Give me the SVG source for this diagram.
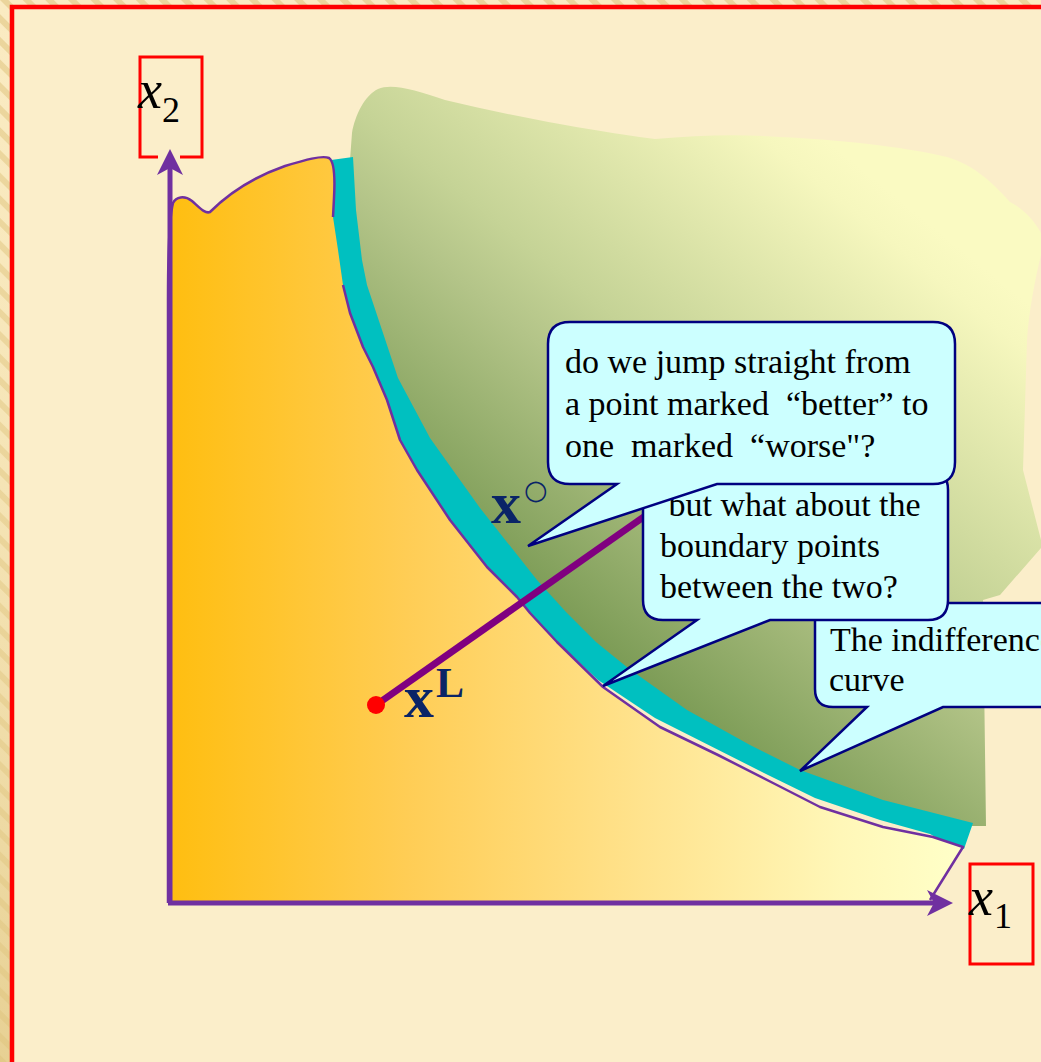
<svg xmlns="http://www.w3.org/2000/svg" width="1041" height="1062" viewBox="0 0 1041 1062">
<defs>
<pattern id="stripes" patternUnits="userSpaceOnUse" width="16" height="16" patternTransform="rotate(-45)">
<rect width="16" height="16" fill="#FAEBC2"/>
<rect width="6" height="16" fill="#EBD59C"/>
</pattern>
<linearGradient id="edgeShade" x1="0" y1="0" x2="0" y2="1">
<stop offset="0" stop-color="#F3E2B0" stop-opacity="0"/>
<stop offset="1" stop-color="#DFC57F" stop-opacity="0.7"/>
</linearGradient>
<linearGradient id="orangeGrad" gradientUnits="userSpaceOnUse" x1="170" y1="0" x2="960" y2="0">
<stop offset="0" stop-color="#FFBE10"/>
<stop offset="0.3" stop-color="#FFCD55"/>
<stop offset="0.6" stop-color="#FFE38E"/>
<stop offset="0.85" stop-color="#FFF7B8"/>
<stop offset="1" stop-color="#FFFFC8"/>
</linearGradient>
<linearGradient id="greenGrad" gradientUnits="userSpaceOnUse" x1="560" y1="620" x2="900" y2="200">
<stop offset="0" stop-color="#7B9B55"/>
<stop offset="0.37" stop-color="#B3C488"/>
<stop offset="0.5" stop-color="#C5D396"/>
<stop offset="0.93" stop-color="#F6F7BE"/>
<stop offset="1" stop-color="#FAFAC2"/>
</linearGradient>
<style>
.axis{stroke:#7030A0;stroke-width:5;fill:none}
.arrowhead{fill:#7030A0}
.outline{stroke:#7030A0;stroke-width:2.5;fill:none;stroke-linejoin:round}
.callout{fill:#CCFFFF;stroke:#000080;stroke-width:2.5;stroke-linejoin:miter}
.ctext{font-family:"Liberation Serif","Times New Roman",serif;font-size:34px;fill:#000000;white-space:pre}
.axlabel{font-family:"Liberation Serif","Times New Roman",serif;fill:#000000}
.labelbox{fill:none;stroke:#FF0000;stroke-width:3}
.ptlabel{font-family:"Liberation Serif","Times New Roman",serif;font-weight:bold;fill:#0A2467}
</style>
</defs>

<g id="background">
<rect x="0" y="0" width="1041" height="1062" fill="url(#stripes)"/>
<rect x="0" y="0" width="1041" height="1062" fill="url(#edgeShade)"/>
<rect x="12" y="7" width="1100" height="1100" fill="#FBEECA" stroke="#FF0000" stroke-width="4.5"/>
</g>

<g id="preferred-region">
<path fill="url(#greenGrad)" d="M350,160 L352,133 C355,115 365,95 378,89 C392,83 415,90 445,100 C520,118 600,132 655,139 C700,135 740,134 780,137 C840,140 900,146 947,157 C975,165 995,185 1010,202 C1022,208 1033,218 1041,233 L1041,255 C1035,280 1029,310 1027,340 L1023,470 L1041,540 L1041,548 L1000,595 L983,600 L986,826 L970,826 L880,803 L800,773 L750,748 L687,713 L627,671 L593,643 L563,612 L534,582 L477,510 L427,440 L395,380 L379,331 L364,286 L359,260 L353,210 L350,160 Z"/>
</g>

<g id="indifference-band">
<path fill="#00C0C0" d="M322,162 L331,160 L353,157 L356,210 L362,260 L367,285 L382,330 L398,378 L430,438 L480,508 L537,580 L566,612 L596,642 L628,668 L687,710 L750,745 L800,770 L883,800 L973,823 L964,849 L950,845 L930,834 L880,820 L815,798 L768,775 L655,718 L598,680 L550,635 L510,590 L480,560 L442,512 L408,462 L380,400 L355,348 L335,285 L325,217 Z"/>
</g>

<g id="worse-region">
<path fill="url(#orangeGrad)" d="M168,903 L168,300 C168,245 170,215 173,203 C176,197 184,195 192,201 C200,208 205,214 210,212 C222,200 245,180 285,166 C305,160 322,155 329,158 C335,162 335,180 334,198 L333,217 L338,250 L343,285 L350,313 L363,347 L373,367 L387,400 L400,440 L417,470 L450,520 L487,567 L517,597 L530,613 L557,642 L603,687 L660,727 L718,755 L773,783 L820,807 L883,827 L933,837 L963,847 L932,900 L932,903 Z"/>
<path class="outline" d="M168,903 L168,300 C168,245 170,215 173,203 C176,197 184,195 192,201 C200,208 205,214 210,212 C222,200 245,180 285,166 C305,160 322,155 329,158 C335,162 335,180 334,198 L333,217"/>
<path class="outline" d="M343,285 L350,313 L363,347 L373,367 L387,400 L400,440 L417,470 L450,520 L487,567 L517,597 L530,613 L557,642 L603,687 L660,727 L718,755 L773,783 L820,807 L883,827 L933,837 L963,847 L930,900"/>
</g>

<g id="connectors">
<line class="axis" x1="170" y1="903" x2="170" y2="168"/>
<polygon class="arrowhead" points="170,149 183,175 170,168 157,175"/>
<line class="axis" x1="168" y1="903" x2="934" y2="903"/>
<polygon class="arrowhead" points="953,903 927,916 934,903 927,890"/>
<line x1="376" y1="705" x2="645" y2="516" stroke="#800080" stroke-width="7"/>
</g>

<g id="point-xL">
<circle cx="376" cy="705" r="9" fill="#FF0000"/>
<text class="ptlabel" x="404" y="717" font-size="60">x</text>
<text class="ptlabel" x="436" y="697" font-size="42">L</text>
</g>

<g id="point-xo">
<text class="ptlabel" x="491" y="523" font-size="60">x</text>
<text x="524" y="499" font-family="DejaVu Sans, sans-serif" font-size="27" fill="#0A2467">○</text>
</g>

<g id="callout-indifference">
<path class="callout" d="M833,603 H1100 V707 H943 L800,771 L867,707 H833 Q815,707 815,689 V621 Q815,603 833,603 Z"/>
<text class="ctext" x="830" y="651">The indifference</text>
<text class="ctext" x="829" y="691">curve</text>
</g>

<g id="callout-boundary">
<path class="callout" d="M663,470 H928 Q948,470 948,490 V600 Q948,620 928,620 H770 L603,686 L697,620 H663 Q643,620 643,600 V490 Q643,470 663,470 Z"/>
<text class="ctext" x="660" y="516"> but what about the</text>
<text class="ctext" x="660" y="557">boundary points</text>
<text class="ctext" x="660" y="598">between the two?</text>
</g>

<g id="callout-jump">
<path class="callout" d="M570,322 H933 Q955,322 955,344 V462 Q955,484 933,484 H717 L528,546 L617,484 H570 Q548,484 548,462 V344 Q548,322 570,322 Z"/>
<text class="ctext" x="565" y="373">do we jump straight from</text>
<text class="ctext" x="565" y="415">a point marked  “better” to</text>
<text class="ctext" x="565" y="457">one  marked  “worse"?</text>
</g>

<g id="label-x2">
<path class="labelbox" d="M158,157 H140 V57 H202 V157 H180"/>
<text class="axlabel" x="138" y="108" font-size="54" font-style="italic">x</text>
<text class="axlabel" x="162" y="122" font-size="36">2</text>
</g>

<g id="label-x1">
<rect class="labelbox" x="970" y="864" width="63" height="100"/>
<text class="axlabel" x="969" y="915" font-size="54" font-style="italic">x</text>
<text class="axlabel" x="994" y="928" font-size="36">1</text>
</g>
</svg>
